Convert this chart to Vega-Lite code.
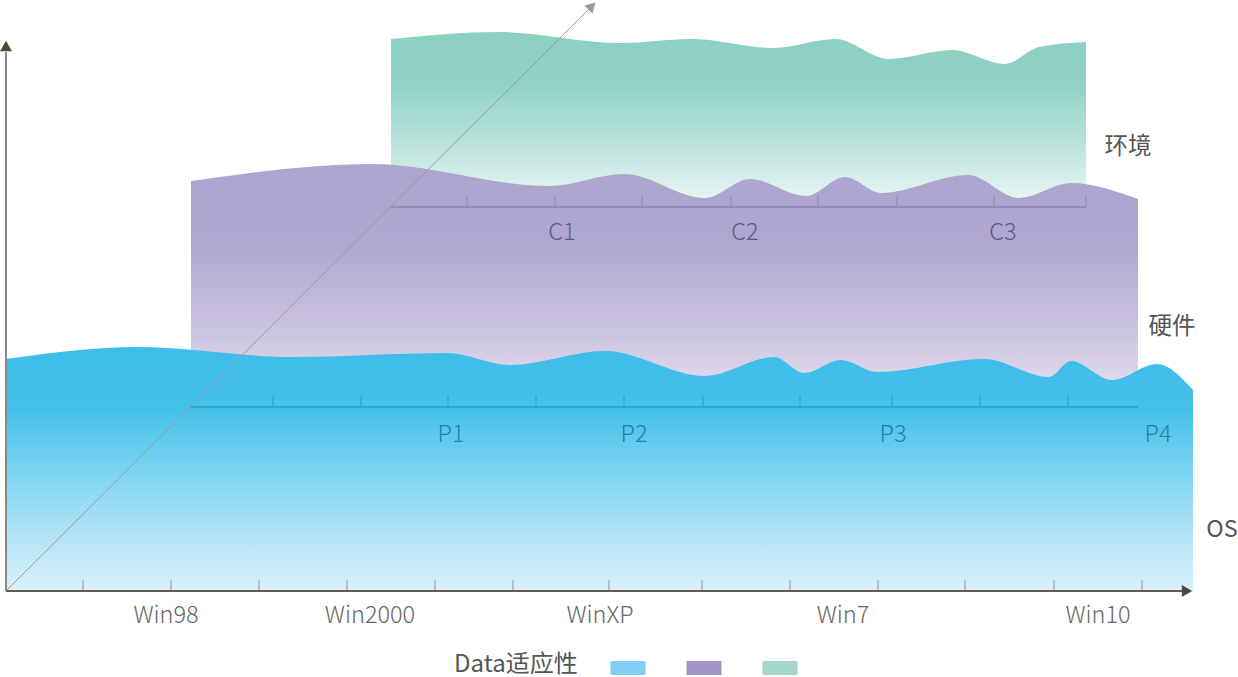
{
  "$schema": "https://vega.github.io/schema/vega-lite/v6.json",
  "width": 1238,
  "height": 677,
  "autosize": {"type": "none"},
  "padding": 0,
  "config": {"view": {"stroke": null}, "font": "Noto Sans CJK SC"},
  "datasets": {
    "os": [
      {"x": 0, "y": 232}, {"x": 132, "y": 244}, {"x": 286, "y": 234}, {"x": 441, "y": 238},
      {"x": 504, "y": 226}, {"x": 599, "y": 240}, {"x": 699, "y": 215}, {"x": 768, "y": 234},
      {"x": 798, "y": 218}, {"x": 835, "y": 231}, {"x": 871, "y": 219}, {"x": 978, "y": 232},
      {"x": 1043, "y": 214}, {"x": 1065, "y": 230}, {"x": 1106, "y": 211}, {"x": 1151, "y": 227},
      {"x": 1187, "y": 201}
    ],
    "hw": [
      {"x": 185, "y": 410}, {"x": 366, "y": 427}, {"x": 543, "y": 405}, {"x": 618, "y": 417},
      {"x": 699, "y": 393}, {"x": 744, "y": 412}, {"x": 800, "y": 395}, {"x": 839, "y": 414},
      {"x": 875, "y": 398}, {"x": 962, "y": 416}, {"x": 1013, "y": 393}, {"x": 1065, "y": 408},
      {"x": 1132, "y": 392}
    ],
    "env": [
      {"x": 385, "y": 552}, {"x": 492, "y": 559}, {"x": 614, "y": 548}, {"x": 685, "y": 552},
      {"x": 768, "y": 543}, {"x": 829, "y": 552}, {"x": 883, "y": 532}, {"x": 946, "y": 541},
      {"x": 999, "y": 527}, {"x": 1033, "y": 544}, {"x": 1080, "y": 549}
    ],
    "axes": [
      {"plane": "OS", "x": 0, "x2": 1177, "y": 0},
      {"plane": "硬件", "x": 185, "x2": 1132, "y": 184},
      {"plane": "环境", "x": 385, "x2": 1080, "y": 384}
    ],
    "ticks": [
      {"plane": "OS", "x": 77, "y": 0}, {"plane": "OS", "x": 165, "y": 0}, {"plane": "OS", "x": 253, "y": 0},
      {"plane": "OS", "x": 341, "y": 0}, {"plane": "OS", "x": 429, "y": 0}, {"plane": "OS", "x": 507, "y": 0},
      {"plane": "OS", "x": 603, "y": 0}, {"plane": "OS", "x": 696, "y": 0}, {"plane": "OS", "x": 784, "y": 0},
      {"plane": "OS", "x": 872, "y": 0}, {"plane": "OS", "x": 959, "y": 0}, {"plane": "OS", "x": 1048, "y": 0},
      {"plane": "OS", "x": 1136, "y": 0},
      {"plane": "硬件", "x": 267, "y": 184}, {"plane": "硬件", "x": 355, "y": 184}, {"plane": "硬件", "x": 442, "y": 184},
      {"plane": "硬件", "x": 530, "y": 184}, {"plane": "硬件", "x": 618, "y": 184}, {"plane": "硬件", "x": 697, "y": 184},
      {"plane": "硬件", "x": 794, "y": 184}, {"plane": "硬件", "x": 886, "y": 184}, {"plane": "硬件", "x": 974, "y": 184},
      {"plane": "硬件", "x": 1062, "y": 184},
      {"plane": "环境", "x": 461, "y": 384}, {"plane": "环境", "x": 549, "y": 384}, {"plane": "环境", "x": 636, "y": 384},
      {"plane": "环境", "x": 725, "y": 384}, {"plane": "环境", "x": 812, "y": 384}, {"plane": "环境", "x": 891, "y": 384},
      {"plane": "环境", "x": 988, "y": 384}, {"plane": "环境", "x": 1080, "y": 384}
    ],
    "labels": [
      {"kind": "OS", "text": "Win98", "x": 160, "y": -25},
      {"kind": "OS", "text": "Win2000", "x": 364, "y": -25},
      {"kind": "OS", "text": "WinXP", "x": 594, "y": -25},
      {"kind": "OS", "text": "Win7", "x": 837, "y": -25},
      {"kind": "OS", "text": "Win10", "x": 1092, "y": -25},
      {"kind": "硬件", "text": "P1", "x": 445, "y": 156},
      {"kind": "硬件", "text": "P2", "x": 628, "y": 156},
      {"kind": "硬件", "text": "P3", "x": 887, "y": 156},
      {"kind": "硬件", "text": "P4", "x": 1152, "y": 156},
      {"kind": "环境", "text": "C1", "x": 556, "y": 358},
      {"kind": "环境", "text": "C2", "x": 739, "y": 358},
      {"kind": "环境", "text": "C3", "x": 997, "y": 358},
      {"kind": "plane", "text": "环境", "x": 1122, "y": 444},
      {"kind": "plane", "text": "硬件", "x": 1166, "y": 264},
      {"kind": "plane", "text": "OS", "x": 1216, "y": 61}
    ],
    "series": [{"s": "OS"}, {"s": "硬件"}, {"s": "环境"}]
  },
  "layer": [
    {
      "data": {"name": "env"},
      "mark": {"type": "area", "interpolate": "monotone",
        "fill": {"gradient": "linear", "x1": 0, "y1": 0, "x2": 0, "y2": 1,
          "stops": [{"offset": 0, "color": "#8BD0C3"}, {"offset": 0.3, "color": "#8FD2C5"}, {"offset": 0.6, "color": "#B5E1D9"}, {"offset": 0.85, "color": "#D8EFEA"}, {"offset": 1, "color": "#EDF8F5"}]}},
      "encoding": {
        "x": {"field": "x", "type": "quantitative", "scale": {"domain": [-6, 1232], "nice": false, "zero": false}, "axis": null},
        "y": {"field": "y", "type": "quantitative", "scale": {"domain": [-86, 591], "nice": false, "zero": false}, "axis": null},
        "y2": {"datum": 384}
      }
    },
    {
      "data": {"name": "hw"},
      "mark": {"type": "area", "interpolate": "monotone",
        "fill": {"gradient": "linear", "x1": 0, "y1": 0, "x2": 0, "y2": 1,
          "stops": [{"offset": 0, "color": "#ADA4CF"}, {"offset": 0.35, "color": "#B1A8D1"}, {"offset": 0.7, "color": "#CCC5E0"}, {"offset": 1, "color": "#E8E4F1"}]}},
      "encoding": {
        "x": {"field": "x", "type": "quantitative"},
        "y": {"field": "y", "type": "quantitative"},
        "y2": {"datum": 184}
      }
    },
    {
      "data": {"name": "axes"},
      "transform": [{"filter": "datum.plane === '环境'"}],
      "mark": {"type": "rule", "color": "#8D83B4", "strokeWidth": 1.5},
      "encoding": {"x": {"field": "x", "type": "quantitative"}, "x2": {"field": "x2"}, "y": {"field": "y", "type": "quantitative"}}
    },
    {
      "data": {"name": "ticks"},
      "transform": [{"filter": "datum.plane === '环境'"}],
      "mark": {"type": "tick", "orient": "vertical", "size": 11, "thickness": 1, "yOffset": -5.5, "color": "#8D83B4", "opacity": 1},
      "encoding": {"x": {"field": "x", "type": "quantitative"}, "y": {"field": "y", "type": "quantitative"}}
    },
    {
      "data": {"name": "os"},
      "mark": {"type": "area", "interpolate": "monotone",
        "fill": {"gradient": "linear", "x1": 0, "y1": 0, "x2": 0, "y2": 1,
          "stops": [{"offset": 0, "color": "#3DBDE9"}, {"offset": 0.25, "color": "#45C1EA"}, {"offset": 0.5, "color": "#78D3F1"}, {"offset": 0.75, "color": "#AEE3F6"}, {"offset": 1, "color": "#DAF0FA"}]}},
      "encoding": {
        "x": {"field": "x", "type": "quantitative"},
        "y": {"field": "y", "type": "quantitative"},
        "y2": {"datum": 0}
      }
    },
    {
      "data": {"name": "axes"},
      "transform": [{"filter": "datum.plane === '硬件'"}],
      "mark": {"type": "rule", "color": "#2A9ACD", "strokeWidth": 1.5},
      "encoding": {"x": {"field": "x", "type": "quantitative"}, "x2": {"field": "x2"}, "y": {"field": "y", "type": "quantitative"}}
    },
    {
      "data": {"name": "ticks"},
      "transform": [{"filter": "datum.plane === '硬件'"}],
      "mark": {"type": "tick", "orient": "vertical", "size": 11, "thickness": 1, "yOffset": -5.5, "color": "#2A9ACD", "opacity": 1},
      "encoding": {"x": {"field": "x", "type": "quantitative"}, "y": {"field": "y", "type": "quantitative"}}
    },
    {
      "data": {"name": "ticks"},
      "transform": [{"filter": "datum.plane === 'OS'"}],
      "mark": {"type": "tick", "orient": "vertical", "size": 11, "thickness": 1, "yOffset": -5.5, "color": "#8E9696", "opacity": 1},
      "encoding": {"x": {"field": "x", "type": "quantitative"}, "y": {"field": "y", "type": "quantitative"}}
    },
    {
      "data": {"name": "axes"},
      "transform": [{"filter": "datum.plane === 'OS'"}],
      "mark": {"type": "rule", "color": "#5C5C50", "strokeWidth": 2},
      "encoding": {"x": {"field": "x", "type": "quantitative"}, "x2": {"field": "x2"}, "y": {"field": "y", "type": "quantitative"}}
    },
    {
      "data": {"values": [{"x": 0, "y": 0, "y2": 539}]},
      "mark": {"type": "rule", "color": "#8A8A7E", "strokeWidth": 2},
      "encoding": {"x": {"field": "x", "type": "quantitative"}, "y": {"field": "y", "type": "quantitative"}, "y2": {"field": "y2"}}
    },
    {
      "data": {"values": [{"x": 0, "y": 0, "x2": 585, "y2": 584}]},
      "mark": {"type": "rule", "color": "#9A9A9A", "strokeWidth": 1},
      "encoding": {"x": {"field": "x", "type": "quantitative"}, "y": {"field": "y", "type": "quantitative"}, "x2": {"field": "x2"}, "y2": {"field": "y2"}}
    },
    {
      "data": {"values": [{"x": 0, "y": 545}]},
      "mark": {"type": "point", "shape": "triangle-up", "filled": true, "size": 144, "color": "#4B4B3B", "opacity": 1},
      "encoding": {"x": {"field": "x", "type": "quantitative"}, "y": {"field": "y", "type": "quantitative"}}
    },
    {
      "data": {"values": [{"x": 1181, "y": 0}]},
      "mark": {"type": "point", "shape": "triangle-right", "filled": true, "size": 144, "color": "#4B4B3B", "opacity": 1},
      "encoding": {"x": {"field": "x", "type": "quantitative"}, "y": {"field": "y", "type": "quantitative"}}
    },
    {
      "data": {"values": [{"x": 586, "y": 585}]},
      "mark": {"type": "point", "shape": "triangle-up", "filled": true, "size": 130, "angle": 45, "color": "#9A9A9A", "opacity": 1},
      "encoding": {"x": {"field": "x", "type": "quantitative"}, "y": {"field": "y", "type": "quantitative"}}
    },
    {
      "data": {"name": "labels"},
      "transform": [{"filter": "datum.kind === 'OS'"}],
      "mark": {"type": "text", "fontSize": 23.5, "fontWeight": 300, "color": "#666666", "align": "center", "baseline": "middle"},
      "encoding": {"x": {"field": "x", "type": "quantitative"}, "y": {"field": "y", "type": "quantitative"}, "text": {"field": "text"}}
    },
    {
      "data": {"name": "labels"},
      "transform": [{"filter": "datum.kind === '硬件'"}],
      "mark": {"type": "text", "fontSize": 23.5, "fontWeight": 300, "color": "#2080AE", "align": "center", "baseline": "middle"},
      "encoding": {"x": {"field": "x", "type": "quantitative"}, "y": {"field": "y", "type": "quantitative"}, "text": {"field": "text"}}
    },
    {
      "data": {"name": "labels"},
      "transform": [{"filter": "datum.kind === '环境'"}],
      "mark": {"type": "text", "fontSize": 23.5, "fontWeight": 300, "color": "#5F5984", "align": "center", "baseline": "middle"},
      "encoding": {"x": {"field": "x", "type": "quantitative"}, "y": {"field": "y", "type": "quantitative"}, "text": {"field": "text"}}
    },
    {
      "data": {"name": "labels"},
      "transform": [{"filter": "datum.kind === 'plane'"}],
      "mark": {"type": "text", "fontSize": 23.5, "color": "#555555", "align": "center", "baseline": "middle"},
      "encoding": {"x": {"field": "x", "type": "quantitative"}, "y": {"field": "y", "type": "quantitative"}, "text": {"field": "text"}}
    },
    {
      "data": {"name": "series"},
      "mark": {"type": "point", "filled": true, "opacity": 0, "size": 0},
      "encoding": {
        "x": {"datum": 0, "type": "quantitative"},
        "y": {"datum": 0, "type": "quantitative"},
        "color": {"field": "s", "type": "nominal",
          "scale": {"domain": ["OS", "硬件", "环境"], "range": ["#82CDF3", "#A396C7", "#A4D7C9"]},
          "legend": {"title": "Data适应性", "orient": "none", "legendX": 454, "legendY": 654,
            "direction": "horizontal", "titleOrient": "left", "titleFontSize": 24, "titleFontWeight": 400,
            "titleColor": "#555555", "titleFont": "Noto Sans CJK SC", "titlePadding": 36, "titleBaseline": "middle",
            "labelExpr": "''", "labelOffset": 0, "symbolType": "M-1.25,-0.5H1.25V0.5H-1.25Z", "symbolSize": 784,
            "symbolOpacity": 1, "symbolStrokeWidth": 0, "columnPadding": 40}
        }
      }
    }
  ]
}
